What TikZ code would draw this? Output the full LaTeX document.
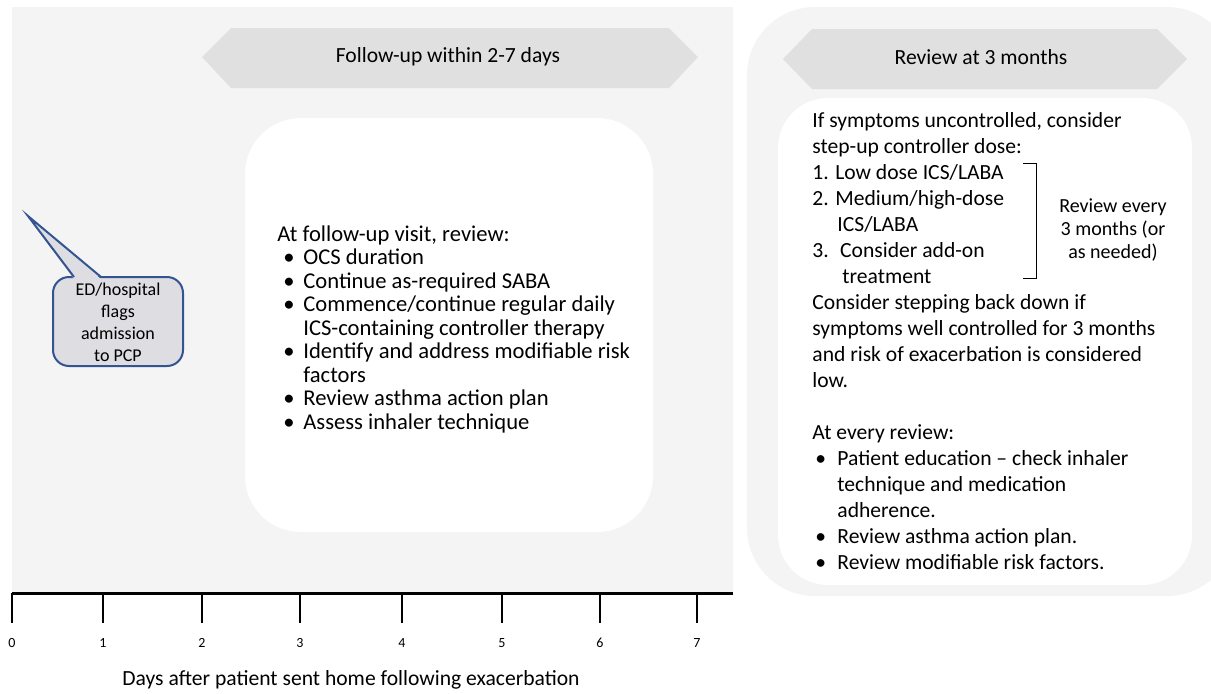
\documentclass[tikz,border=0pt]{standalone}
\usepackage{fontspec}
\setmainfont{Carlito}
\usepackage{tikz}

\definecolor{panelbg}{RGB}{244,244,244}
\definecolor{arrowbg}{RGB}{224,224,224}
\definecolor{calloutfill}{RGB}{221,221,226}
\definecolor{calloutline}{RGB}{52,84,145}

\tikzset{
  headtext/.style={font=\fontsize{10.8}{13}\selectfont},
  lefttext/.style={anchor=north west, inner sep=0pt, align=left, font=\fontsize{11.3}{11.75}\selectfont},
  righttext/.style={anchor=north west, inner sep=0pt, align=left, font=\fontsize{10.8}{13}\selectfont},
  daylabel/.style={font=\fontsize{7}{8}\selectfont},
}
\newcommand{\bul}[1]{\hspace*{#1}\makebox[0pt][l]{\textbullet}}

\begin{document}
\begin{tikzpicture}[x=0.5pt, y=-0.5pt]
    \useasboundingbox (0,0) rectangle (1211,693);
    % 左のパネル
    \fill[panelbg] (12,7) rectangle (733,593);
    \fill[arrowbg] (202,57)--(231,28)--(669,28)--(698,57)--(669,88)--(231,88)--cycle;
    \node[headtext] (follow) at (448,57) {Follow-up within 2-7 days};
    \fill[white, rounded corners=28pt] (245,118) rectangle (653,532);
    \node[lefttext] (visit) at (277,225) {At follow-up visit, review:\\
        \bul{3pt}\hspace*{10pt}OCS duration\\
        \bul{3pt}\hspace*{10pt}Continue as-required SABA\\
        \bul{3pt}\hspace*{10pt}Commence/continue regular daily\\
        \hspace*{13pt}ICS-containing controller therapy\\
        \bul{3pt}\hspace*{10pt}Identify and address modifiable risk\\
        \hspace*{13pt}factors\\
        \bul{3pt}\hspace*{10pt}Review asthma action plan\\
        \bul{3pt}\hspace*{10pt}Assess inhaler technique};
    % 吹き出し
    \draw[calloutline, fill=calloutfill, line width=1pt, rounded corners=8pt] (53,277) rectangle (183,366);
    \fill[calloutfill] (74,279)--(28,216)--(101,279)--cycle;
    \draw[calloutline, line width=1pt] (74,277)--(28,216)--(101,277);
    \node[align=center, font=\fontsize{9}{11}\selectfont] (flag) at (118,322) {ED/hospital\\flags\\admission\\to PCP};
    % 右のパネル
    \fill[panelbg, rounded corners=34pt] (747,7) rectangle (1235,596);
    \fill[arrowbg] (783,59)--(812,29)--(1157,29)--(1187,59)--(1157,89)--(812,89)--cycle;
    \node[headtext] (review) at (981,57) {Review at 3 months};
    \fill[white, rounded corners=25pt] (778,98) rectangle (1192,585);
    \node[righttext] (stepup) at (812,112) {If symptoms uncontrolled, consider\\
        step-up controller dose:\\
        1. Low dose ICS/LABA\\
        2. Medium/high-dose\\
        \hspace*{12.5pt}ICS/LABA\\
        3. \ Consider add-on\\
        \hspace*{15pt}treatment\\
        Consider stepping back down if\\
        symptoms well controlled for 3 months\\
        and risk of exacerbation is considered\\
        low.\\[13pt]
        At every review:\\
        \bul{1.5pt}\hspace*{11pt}Patient education -- check inhaler\\
        \hspace*{12.5pt}technique and medication\\
        \hspace*{12.5pt}adherence.\\
        \bul{1.5pt}\hspace*{11pt}Review asthma action plan.\\
        \bul{1.5pt}\hspace*{11pt}Review modifiable risk factors.};
    \draw[thin] (1023,163)--(1036,163)--(1036,278)--(1023,278);
    \node[align=center, font=\fontsize{10}{11.5}\selectfont] (every) at (1113,230) {Review every\\3 months (or\\as needed)};
    % 軸
    \draw[line width=1.5pt] (12,593)--(733,593);
    \foreach \x/\d in {12/0, 103/1, 202/2, 300/3, 402/4, 502/5, 600/6, 697/7}{
        \draw[line width=1pt] (\x,593)--(\x,623);
        \node[daylabel] (day\d) at (\x,643) {\d};
    }
    \node[headtext] (days) at (351,680) {Days after patient sent home following exacerbation};
\end{tikzpicture}
\end{document}
